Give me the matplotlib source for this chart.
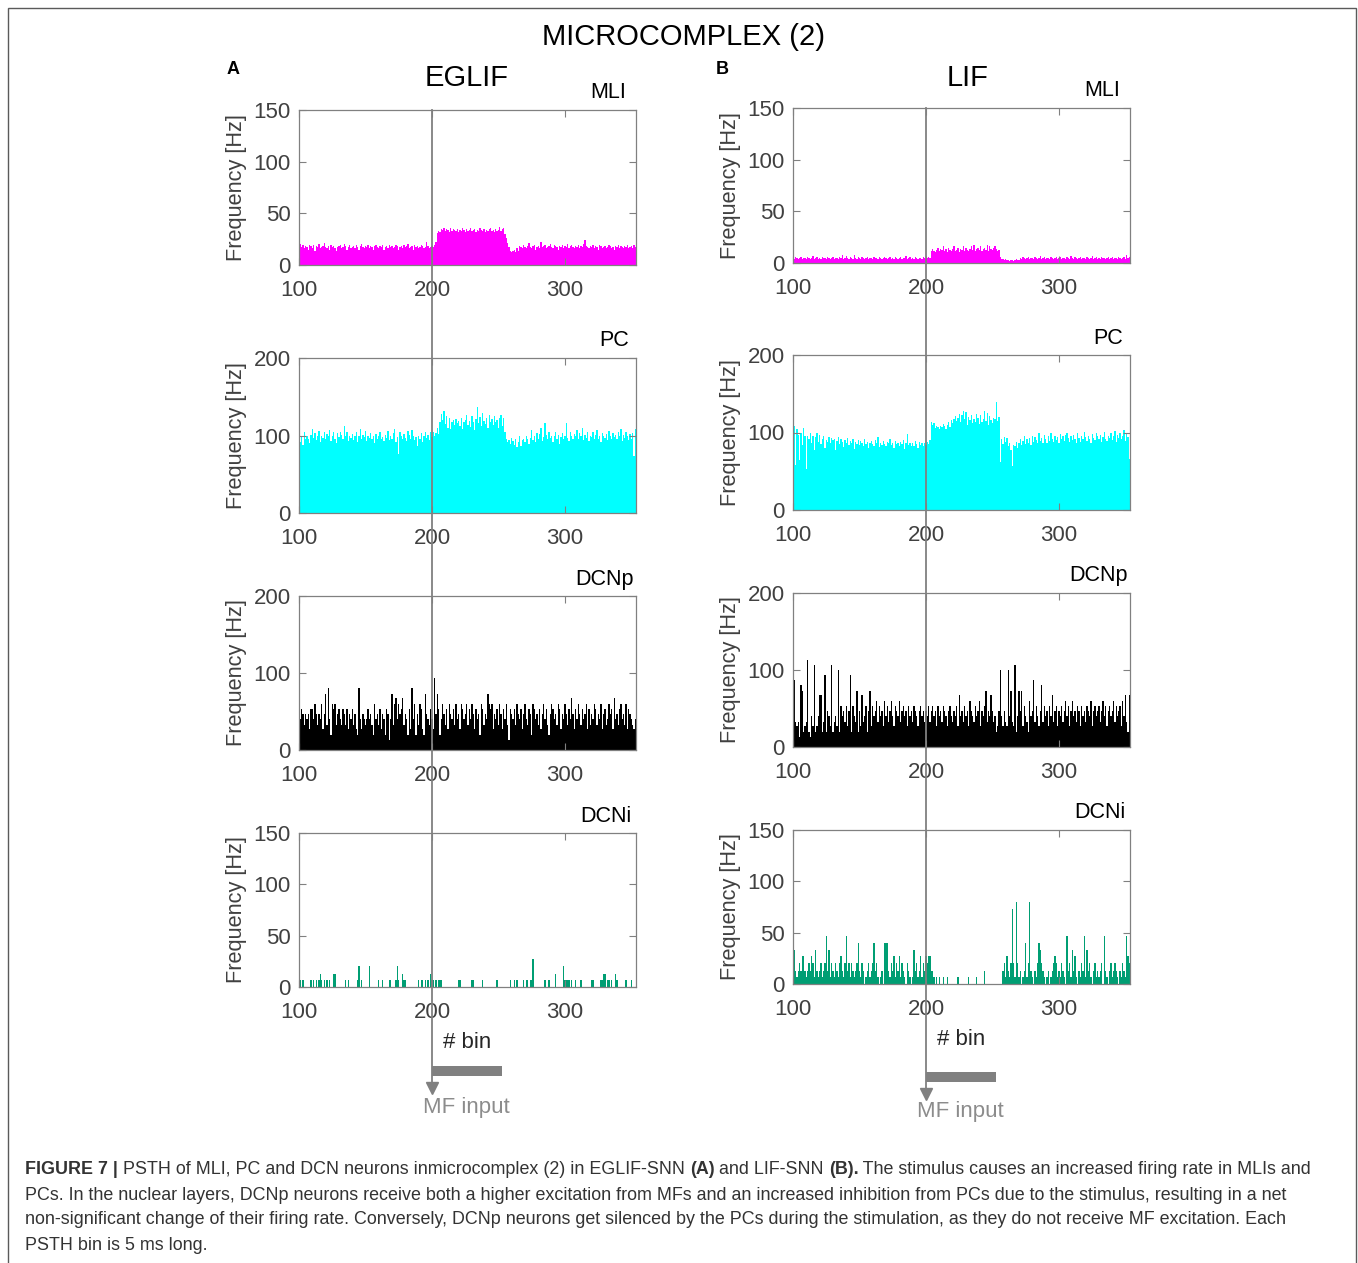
import numpy as np
import matplotlib.pyplot as plt
import matplotlib.transforms as mtransforms
from matplotlib import font_manager
from matplotlib.lines import Line2D
from matplotlib.patches import Rectangle

W, H = 1358, 1263

# PSTH bins (# bin), one value per bin, in Hz
bins = np.arange(100, 354)

# ---- EGLIF-SNN (A) ----
mli_a = [18, 20, 17, 19, 16, 18, 17, 15, 19, 18,
         16, 19, 14, 18, 17, 20, 16, 17, 18, 21,
         17, 16, 18, 15, 19, 17, 18, 16, 14, 17,
         18, 19, 16, 17, 20, 18, 15, 17, 19, 16,
         17, 18, 16, 19, 17, 15, 18, 20, 17, 16,
         18, 17, 19, 16, 18, 17, 15, 18, 19, 17,
         16, 18, 17, 19, 15, 17, 18, 16, 19, 17,
         18, 16, 17, 19, 18, 15, 17, 18, 16, 19,
         17, 18, 20, 16, 17, 18, 15, 19, 17, 18,
         16, 17, 19, 18, 16, 17, 22, 18, 16, 17,
         18, 17, 19, 22, 31, 33, 32, 35, 34, 36,
         33, 35, 34, 32, 36, 33, 35, 34, 33, 35,
         32, 34, 33, 36, 34, 32, 35, 33, 34, 36,
         33, 34, 35, 32, 34, 33, 36, 34, 33, 35,
         32, 34, 33, 35, 36, 33, 34, 32, 35, 33,
         34, 37, 33, 35, 36, 30, 26, 21, 17, 14,
         13, 14, 15, 13, 16, 14, 18, 17, 16, 19,
         17, 16, 18, 21, 17, 16, 18, 19, 15, 17,
         18, 16, 22, 17, 18, 19, 16, 17, 18, 20,
         17, 16, 19, 18, 17, 15, 18, 17, 19, 16,
         18, 17, 20, 16, 18, 19, 17, 16, 18, 17,
         19, 16, 18, 17, 20, 24, 18, 17, 16, 18,
         17, 19, 16, 18, 17, 15, 19, 18, 16, 17,
         18, 16, 17, 19, 18, 16, 17, 15, 18, 17,
         19, 16, 18, 17, 16, 18, 17, 19, 16, 17,
         18, 16, 19, 17]

pc_a = [105, 92, 98, 88, 104, 96, 100, 95, 90, 101,
        108, 97, 103, 94, 99, 106, 91, 100, 97, 104,
        95, 102, 99, 107, 93, 100, 104, 96, 90, 103,
        98, 105, 101, 95, 112, 99, 104, 93, 100, 97,
        102, 94, 99, 105, 91, 100, 108, 96, 101, 98,
        106, 93, 100, 97, 103, 95, 99, 90, 102, 96,
        100, 104, 95, 98, 93, 101, 97, 106, 94, 99,
        96, 103, 108, 91, 98, 76, 105, 100, 95, 102,
        97, 93, 106, 101, 95, 107, 99, 94, 98, 86,
        100, 96, 103, 92, 99, 105, 97, 101, 94, 104,
        98, 105, 100, 103, 110, 102, 118, 128, 120, 132,
        115, 125, 110, 122, 108, 118, 120, 113, 121, 116,
        119, 112, 123, 109, 117, 120, 126, 114, 119, 111,
        125, 118, 107, 121, 137, 116, 124, 112, 129, 119,
        115, 122, 110, 127, 118, 121, 113, 125, 117, 120,
        110, 123, 126, 112, 122, 104, 96, 92, 94, 89,
        97, 93, 88, 95, 85, 91, 99, 87, 94, 96,
        92, 100, 95, 89, 97, 107, 94, 99, 91, 103,
        96, 102, 110, 93, 98, 116, 101, 95, 104, 97,
        100, 92, 99, 105, 96, 101, 89, 98, 103, 95,
        100, 116, 97, 93, 104, 99, 95, 102, 100, 107,
        96, 103, 99, 110, 94, 101, 97, 105, 93, 100,
        98, 104, 95, 101, 107, 96, 100, 92, 103, 99,
        97, 102, 94, 106, 100, 95, 103, 98, 101, 96,
        104, 99, 108, 93, 101, 97, 105, 100, 94, 102,
        96, 103, 73, 108]

dcnp_a = [47, 40, 53, 47, 33, 47, 40, 47, 27, 53,
          53, 40, 60, 47, 33, 47, 40, 60, 27, 47,
          73, 33, 80, 40, 20, 60, 53, 60, 33, 47,
          53, 40, 33, 53, 47, 33, 53, 27, 47, 40,
          53, 33, 47, 27, 20, 80, 40, 27, 47, 40,
          33, 40, 53, 40, 47, 33, 20, 60, 40, 47,
          33, 53, 27, 47, 40, 20, 53, 47, 13, 40,
          73, 33, 60, 67, 40, 60, 47, 53, 67, 33,
          47, 40, 20, 53, 27, 80, 40, 60, 20, 47,
          33, 60, 53, 27, 20, 73, 47, 40, 33, 53,
          40, 27, 93, 47, 73, 53, 20, 40, 60, 47,
          33, 53, 27, 60, 47, 40, 53, 33, 60, 40,
          47, 27, 60, 53, 40, 47, 60, 33, 53, 40,
          60, 47, 27, 53, 40, 47, 20, 60, 53, 33,
          47, 40, 73, 60, 53, 60, 27, 47, 40, 53,
          33, 60, 47, 27, 53, 40, 60, 33, 13, 53,
          47, 40, 53, 33, 60, 47, 40, 53, 27, 47,
          60, 40, 33, 53, 47, 20, 60, 53, 40, 47,
          33, 53, 27, 47, 60, 40, 53, 33, 20, 47,
          60, 53, 40, 47, 33, 60, 53, 27, 47, 40,
          60, 47, 33, 53, 40, 67, 47, 27, 53, 40,
          60, 47, 33, 53, 40, 47, 60, 27, 53, 33,
          47, 40, 60, 53, 33, 47, 40, 60, 27, 47,
          53, 33, 40, 60, 47, 53, 27, 67, 40, 47,
          33, 53, 60, 40, 47, 33, 60, 27, 53, 47,
          40, 33, 27, 40]

# DCNi (A) is sparse: only the non-empty bins
dcni_a_bins = [100, 101, 103, 109, 111, 113, 115, 116, 117, 119, 121, 123, 126, 127,
               135, 137, 144, 145, 147, 153, 160, 163, 168, 169, 173, 174, 175, 178,
               179, 180, 190, 192, 193, 195, 197, 199, 200, 201, 203, 205, 206, 207,
               220, 221, 230, 231, 238, 249, 259, 262, 264, 269, 271, 272, 274, 275,
               276, 285, 288, 293, 299, 300, 301, 302, 303, 305, 308, 312, 320, 321,
               327, 328, 329, 330, 332, 333, 335, 338, 339, 346, 350]
dcni_a_hz = [7, 7, 7, 7, 7, 7, 7, 13, 7, 7, 7, 7, 13, 13,
             7, 7, 7, 20, 7, 20, 7, 7, 7, 7, 7, 20, 7, 13,
             7, 7, 7, 7, 7, 7, 7, 13, 7, 7, 7, 7, 7, 7,
             7, 7, 7, 7, 7, 7, 7, 7, 7, 7, 7, 7, 7, 7,
             27, 7, 7, 13, 20, 7, 7, 7, 7, 7, 7, 7, 7, 7,
             7, 7, 13, 13, 7, 7, 7, 13, 7, 7, 7]

# ---- LIF-SNN (B) ----
mli_b = [5, 4, 6, 5, 4, 5, 6, 4, 5, 5,
         4, 6, 5, 4, 5, 7, 4, 5, 6, 4,
         5, 4, 6, 5, 5, 4, 6, 5, 4, 5,
         6, 4, 5, 5, 4, 6, 5, 8, 4, 5,
         7, 5, 4, 6, 5, 4, 8, 5, 4, 6,
         5, 4, 6, 5, 4, 5, 6, 4, 5, 5,
         4, 6, 5, 5, 4, 6, 5, 4, 5, 6,
         5, 4, 5, 6, 4, 5, 4, 6, 5, 4,
         5, 6, 4, 5, 5, 7, 4, 5, 6, 4,
         5, 4, 6, 5, 4, 5, 5, 4, 6, 5,
         4, 5, 6, 5, 12, 14, 12, 11, 13, 15,
         12, 14, 13, 16, 12, 14, 11, 15, 13, 12,
         14, 16, 12, 13, 15, 11, 14, 13, 16, 12,
         15, 13, 12, 14, 16, 13, 17, 12, 14, 15,
         13, 16, 12, 14, 15, 13, 17, 12, 16, 14,
         13, 15, 16, 14, 12, 13, 6, 4, 4, 3,
         4, 3, 3, 2, 3, 3, 2, 3, 4, 3,
         3, 5, 4, 6, 5, 4, 5, 6, 4, 5,
         5, 4, 6, 5, 4, 5, 7, 4, 5, 6,
         4, 5, 5, 4, 6, 5, 4, 5, 6, 4,
         5, 6, 4, 5, 5, 4, 6, 5, 4, 7,
         5, 4, 6, 5, 4, 5, 6, 4, 5, 5,
         4, 6, 5, 4, 5, 7, 4, 5, 6, 4,
         5, 4, 6, 5, 5, 4, 5, 6, 4, 5,
         6, 4, 5, 5, 4, 6, 5, 4, 5, 6,
         4, 8, 5, 6]

pc_b = [90, 108, 58, 105, 97, 64, 100, 84, 106, 96,
        53, 95, 92, 100, 86, 96, 78, 94, 99, 88,
        97, 85, 92, 95, 80, 90, 88, 94, 86, 93,
        90, 91, 78, 89, 94, 85, 92, 88, 81, 90,
        87, 93, 84, 89, 86, 91, 79, 88, 85, 90,
        84, 89, 86, 82, 91, 85, 88, 80, 87, 89,
        85, 83, 90, 86, 94, 81, 87, 84, 89, 85,
        82, 88, 86, 91, 84, 87, 80, 89, 85, 86,
        83, 88, 85, 90, 79, 87, 98, 84, 86, 82,
        87, 83, 89, 85, 80, 88, 84, 86, 82, 87,
        84, 88, 85, 90, 113, 110, 112, 106, 108, 107,
        105, 109, 107, 111, 108, 104, 110, 113, 107, 116,
        112, 118, 121, 115, 119, 124, 114, 122, 128, 118,
        127, 110, 120, 116, 123, 112, 118, 114, 124, 119,
        111, 122, 113, 117, 128, 115, 125, 110, 121, 116,
        112, 119, 118, 140, 115, 120, 62, 92, 85, 94,
        88, 93, 82, 86, 78, 57, 84, 83, 88, 80,
        86, 92, 84, 89, 95, 85, 91, 87, 93, 84,
        96, 88, 94, 90, 86, 100, 89, 93, 87, 97,
        91, 86, 95, 89, 100, 92, 88, 96, 90, 94,
        87, 98, 92, 95, 89, 97, 100, 93, 88, 96,
        90, 97, 92, 86, 99, 93, 88, 95, 91, 101,
        94, 89, 96, 92, 87, 98, 93, 90, 100, 95,
        91, 97, 88, 94, 101, 92, 89, 96, 93, 99,
        90, 95, 102, 88, 97, 93, 100, 91, 96, 103,
        89, 98, 94, 66]

dcnp_b = [60, 87, 33, 27, 33, 13, 80, 73, 20, 27,
          33, 113, 20, 13, 40, 27, 107, 20, 27, 40,
          67, 67, 20, 33, 93, 20, 47, 40, 27, 107,
          20, 33, 40, 27, 100, 20, 53, 40, 47, 33,
          53, 27, 47, 93, 20, 53, 40, 33, 73, 20,
          47, 27, 67, 33, 40, 53, 20, 47, 73, 27,
          53, 40, 47, 60, 33, 53, 40, 47, 27, 60,
          40, 53, 33, 47, 60, 40, 27, 53, 47, 40,
          60, 33, 47, 53, 40, 47, 27, 53, 40, 47,
          33, 53, 47, 40, 27, 47, 53, 40, 47, 33,
          47, 40, 53, 33, 47, 53, 40, 47, 27, 53,
          40, 47, 33, 53, 47, 40, 27, 47, 53, 40,
          33, 47, 40, 53, 27, 67, 40, 47, 33, 53,
          40, 47, 27, 60, 47, 40, 33, 53, 40, 47,
          60, 27, 47, 40, 53, 73, 33, 47, 40, 67,
          47, 33, 40, 20, 27, 47, 100, 40, 27, 47,
          33, 27, 100, 40, 73, 33, 27, 107, 20, 40,
          73, 47, 73, 27, 53, 40, 33, 20, 60, 40,
          47, 87, 33, 53, 40, 27, 47, 80, 33, 53,
          40, 47, 27, 53, 40, 67, 33, 47, 53, 27,
          47, 40, 53, 33, 47, 60, 40, 53, 27, 47,
          60, 40, 47, 33, 53, 47, 27, 53, 40, 47,
          33, 53, 47, 40, 60, 27, 47, 53, 40, 47,
          53, 33, 47, 60, 40, 53, 27, 47, 53, 40,
          47, 60, 33, 53, 40, 47, 53, 27, 60, 40,
          67, 33, 20, 67]

dcni_b = [13, 33, 13, 7, 13, 20, 13, 27, 27, 13,
          7, 13, 20, 13, 27, 20, 7, 33, 13, 7,
          13, 20, 7, 13, 20, 47, 13, 33, 7, 20,
          13, 7, 20, 13, 7, 20, 27, 13, 7, 20,
          47, 13, 20, 7, 20, 13, 7, 13, 20, 40,
          13, 7, 20, 13, 0, 7, 13, 20, 7, 13,
          20, 40, 13, 20, 7, 0, 7, 13, 0, 40,
          40, 40, 13, 7, 20, 13, 27, 7, 20, 13,
          27, 7, 20, 13, 7, 0, 20, 13, 7, 0,
          7, 33, 13, 20, 7, 13, 27, 7, 20, 13,
          27, 20, 27, 27, 13, 13, 7, 0, 7, 0,
          7, 0, 0, 7, 0, 0, 7, 0, 0, 0,
          0, 0, 0, 0, 7, 0, 0, 0, 0, 0,
          0, 0, 7, 0, 0, 0, 0, 0, 7, 0,
          0, 0, 0, 0, 13, 0, 0, 0, 0, 0,
          0, 0, 0, 0, 0, 0, 0, 0, 13, 20,
          7, 27, 13, 7, 20, 73, 20, 7, 80, 20,
          7, 13, 0, 7, 13, 40, 7, 20, 80, 13,
          7, 0, 13, 7, 20, 40, 33, 20, 13, 7,
          0, 7, 13, 0, 7, 13, 20, 27, 20, 7,
          13, 7, 20, 13, 7, 0, 47, 13, 20, 7,
          33, 13, 27, 7, 0, 13, 7, 20, 13, 47,
          7, 33, 13, 20, 7, 0, 13, 20, 7, 13,
          7, 13, 20, 0, 47, 13, 7, 0, 13, 20,
          7, 13, 20, 13, 7, 0, 13, 7, 20, 13,
          7, 47, 27, 20]

# dense version of the sparse DCNi (A) histogram
dcni_a = np.zeros(len(bins))
dcni_a[np.searchsorted(bins, dcni_a_bins)] = dcni_a_hz

populations = ['MLI', 'PC', 'DCNp', 'DCNi']
pop_colors = ['#FF00FF', '#00FFFF', '#000000', '#009E73']
pop_ylim = [150, 200, 200, 150]
pop_yticks = [[0, 50, 100, 150], [0, 100, 200], [0, 100, 200], [0, 50, 100, 150]]
xticks = [100, 200, 300]
stim_start, stim_end = 200, 253

models = ['EGLIF', 'LIF']
panel_letters = ['A', 'B']
model_data = [[mli_a, pc_a, dcnp_a, dcni_a], [mli_b, pc_b, dcnp_b, dcni_b]]

caption = [
    [('FIGURE 7 | ', 'bold'),
     ('PSTH of MLI, PC and DCN neurons inmicrocomplex (2) in EGLIF-SNN ', 'normal'),
     ('(A)', 'bold'), (' and LIF-SNN ', 'normal'), ('(B).', 'bold'),
     (' The stimulus causes an increased firing rate in MLIs and', 'normal')],
    [('PCs. In the nuclear layers, DCNp neurons receive both a higher excitation from MFs '
      'and an increased inhibition from PCs due to the stimulus, resulting in a net', 'normal')],
    [('non-significant change of their firing rate. Conversely, DCNp neurons get silenced by '
      'the PCs during the stimulation, as they do not receive MF excitation. Each', 'normal')],
    [('PSTH bin is 5 ms long.', 'normal')],
]

plt.rcParams['font.family'] = ['Liberation Sans', 'DejaVu Sans']

GRAY = '#808080'
TXT = '#404040'

fig = plt.figure(figsize=(W / 100, H / 100), dpi=100)


def fx(px):
    return px / W


def fy(py):
    return 1 - py / H


# axes boxes in pixels: (left, right), rows of (top, bottom)
col_x = [(299, 636), (793, 1130)]
row_y = [[(110, 265), (358, 513), (596, 750), (833, 987)],
         [(108, 263), (355, 510), (593, 747), (830, 984)]]
name_off = [10, 7, 2, 5]

edges = np.append(bins - 0.5, bins[-1] + 0.5)
col_axes = []
for c in range(2):
    x0, x1 = col_x[c]
    axes = []
    for r in range(4):
        y0, y1 = row_y[c][r]
        ax = fig.add_axes([fx(x0), fy(y1), fx(x1 - x0), (y1 - y0) / H])
        ax.stairs(model_data[c][r], edges, fill=True, color=pop_colors[r], lw=0)
        ax.set_xlim(100, 353.4)
        ax.set_ylim(0, pop_ylim[r])
        ax.set_xticks(xticks)
        ax.set_yticks(pop_yticks[r])
        ax.tick_params(direction='in', length=5, width=0.8, top=True, right=True,
                       color=GRAY, labelcolor=TXT, labelsize=16)
        ax.tick_params(axis='x', pad=11)
        ax.tick_params(axis='y', pad=6)
        for sp in ax.spines.values():
            sp.set_color(GRAY)
            sp.set_linewidth(0.9)
        ax.set_ylabel('Frequency [Hz]', fontsize=15.7, color=TXT)
        ax.yaxis.set_label_coords(-0.155, 0.5)
        ax.text(1 - name_off[r] / (x1 - x0), 1 + 17 / (y1 - y0), populations[r],
                transform=ax.transAxes, ha='right', va='center', fontsize=15.5)
        axes.append(ax)
    axes[-1].set_xlabel('# bin', fontsize=16, color='#262626')
    axes[-1].xaxis.set_label_coords(0.5, -0.29)
    col_axes.append(axes)

# stimulus marker: vertical line at bin 200, arrow and bar under the last panel
arrow_tip = [1092, 1098]
bar_y = [(1066, 1076), (1072, 1082)]
mf_y = [1107, 1111]
for c in range(2):
    top_ax = col_axes[c][0]
    tr = mtransforms.blended_transform_factory(top_ax.transData, fig.transFigure)
    y_top = fy(row_y[c][0][0])
    fig.add_artist(Line2D([stim_start, stim_start], [y_top, fy(arrow_tip[c] - 6)],
                          transform=tr, color=GRAY, lw=1.3, zorder=5))
    fig.add_artist(Line2D([stim_start], [fy(arrow_tip[c] - 4)], transform=tr,
                          marker='v', markersize=9, color=GRAY, lw=0, zorder=5))
    b0, b1 = bar_y[c]
    fig.add_artist(Rectangle((stim_start, fy(b1)), stim_end - stim_start, (b1 - b0) / H,
                             transform=tr, color=GRAY, lw=0, zorder=5))
    cx = (col_x[c][0] + col_x[c][1]) / 2 - 1
    fig.text(fx(cx), fy(mf_y[c]), 'MF input', ha='center', va='center',
             fontsize=16, color='#8c8c8c')

# titles and panel letters
fig.text(fx(683), fy(37), 'MICROCOMPLEX (2)', ha='center', va='center', fontsize=21)
fig.text(fx(467), fy(78), models[0], ha='center', va='center', fontsize=21)
fig.text(fx(968), fy(78), models[1], ha='center', va='center', fontsize=21)
fig.text(fx(233), fy(69), panel_letters[0], ha='center', va='center', fontsize=13,
         fontweight='bold')
fig.text(fx(722), fy(69), panel_letters[1], ha='center', va='center', fontsize=13,
         fontweight='bold')

# outer frame (open at the bottom)
fig.add_artist(Rectangle((fx(8), fy(1300)), fx(1348), (1300 - 8) / H,
                         transform=fig.transFigure, fill=False, ec='#5a5a5a', lw=1.0))

# caption with bold runs, condensed font if available
names = {f.name for f in font_manager.fontManager.ttflist}
cap_font = 'Liberation Sans Narrow' if 'Liberation Sans Narrow' in names else 'Liberation Sans'
renderer = fig.canvas.get_renderer()

# fit the font size so the second line spans the same width as in the figure
probe = fig.text(0, 0, caption[1][0][0], fontsize=10, family=cap_font)
w10 = probe.get_window_extent(renderer).width
probe.remove()
cap_size = 10 * (1293 - 25) / w10

line_y = [1170, 1195, 1220, 1246]
for runs, ly in zip(caption, line_y):
    x = 25
    for text, weight in runs:
        t = fig.text(fx(x), fy(ly), text, fontsize=cap_size, family=cap_font,
                     fontweight=weight, color='#333333', va='center', ha='left')
        x += t.get_window_extent(renderer).width

fig.savefig('out.png', dpi=100)
